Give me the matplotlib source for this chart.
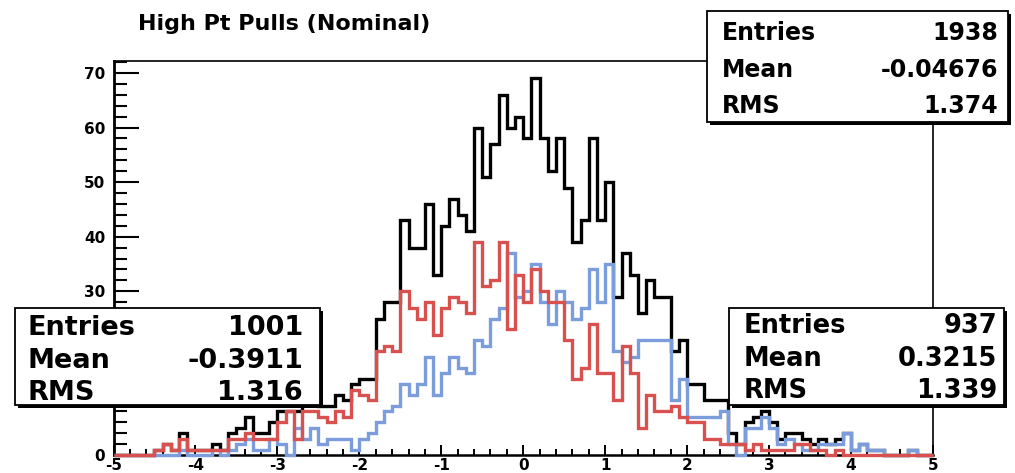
import numpy as np
import matplotlib
matplotlib.use("Agg")
import matplotlib.pyplot as plt
from matplotlib.patches import Rectangle
from matplotlib.ticker import MultipleLocator, FuncFormatter

plt.rcParams["axes.unicode_minus"] = False
plt.rcParams["font.family"] = ["DejaVu Sans"]

# ---- data: pull distributions, 100 bins from -5 to 5 ----
x_range = (-5.0, 5.0)
n_bins = 100

# first sub-sample (red)
pulls_a = [0, 0, 0, 0, 0, 1, 2, 1, 3, 1, 1, 1, 1, 1, 3, 3, 4, 3, 3, 3,
           6, 8, 3, 8, 8, 7, 6, 8, 7, 12, 11, 10, 19, 20, 19, 30, 27, 25, 28, 22,
           27, 29, 28, 26, 39, 31, 32, 39, 23, 33, 28, 34, 30, 28, 28, 21, 14, 16, 24, 15,
           15, 10, 20, 15, 5, 11, 8, 8, 9, 7, 6, 6, 3, 3, 2, 2, 2, 1, 2, 1,
           1, 1, 1, 2, 2, 1, 1, 0, 1, 0, 0, 0, 0, 0, 0, 0, 0, 0, 0, 0]

# second sub-sample (blue)
pulls_b = [0, 0, 0, 0, 0, 0, 0, 0, 1, 0, 0, 0, 1, 0, 1, 2, 3, 1, 1, 3,
           2, 0, 5, 3, 5, 2, 3, 3, 3, 1, 3, 4, 6, 8, 9, 13, 11, 13, 18, 11,
           15, 18, 16, 15, 21, 20, 25, 27, 37, 29, 30, 35, 28, 24, 30, 28, 25, 27, 34, 28,
           35, 19, 17, 18, 21, 21, 21, 21, 10, 14, 7, 7, 7, 7, 8, 2, 0, 5, 5, 7,
           5, 2, 3, 2, 1, 1, 2, 2, 2, 4, 1, 2, 1, 1, 0, 0, 0, 1, 0, 0]

# statistics boxes: (label, value) rows
stats_all = [("Entries", "1938"), ("Mean", "-0.04676"), ("RMS", "1.374")]
stats_a = [("Entries", "1001"), ("Mean", "-0.3911"), ("RMS", "1.316")]
stats_b = [("Entries", "937"), ("Mean", "0.3215"), ("RMS", "1.339")]

title = "High Pt Pulls (Nominal)"

# y labels that sit under the left statistics box are not printed
hidden_y_labels = [10, 20]

# the nominal histogram is the sum of the two sub-samples
pulls_a = np.array(pulls_a, dtype=float)
pulls_b = np.array(pulls_b, dtype=float)
pulls_all = pulls_a + pulls_b

# ---- figure ----
W, H = 1015, 473
fig = plt.figure(figsize=(W / 100, H / 100), dpi=100)


def fx(px):
    return px / W


def fy(py):
    return 1 - py / H


ax = fig.add_axes([fx(113.5), fy(455), fx(933) - fx(113.5), fy(61) - fy(455)])

RED = "#d9514f"
BLUE = "#7c9ddc"
edges = np.linspace(x_range[0], x_range[1], n_bins + 1)
lw = 2.4
ax.stairs(pulls_all, edges, color="black", lw=lw, clip_on=False, zorder=3)
ax.stairs(pulls_b, edges, color=BLUE, lw=lw, clip_on=False, zorder=3.1)
ax.stairs(pulls_a, edges, color=RED, lw=lw, clip_on=False, zorder=3.2)

ax.set_xlim(*x_range)
ax.set_ylim(0, 72.2)
ax.xaxis.set_major_locator(MultipleLocator(1))
ax.xaxis.set_minor_locator(MultipleLocator(0.2))
ax.yaxis.set_major_locator(MultipleLocator(10))
ax.yaxis.set_minor_locator(MultipleLocator(2))
ax.xaxis.set_major_formatter(FuncFormatter(lambda v, p: f"{v:.0f}"))
ax.yaxis.set_major_formatter(
    FuncFormatter(lambda v, p: "" if round(v) in hidden_y_labels else f"{v:.0f}"))

ax.tick_params(axis="x", which="major", direction="in", length=7.5, width=1.4,
               pad=2, labelsize=11)
ax.tick_params(axis="x", which="minor", direction="in", length=4, width=1.4)
ax.tick_params(axis="y", which="major", direction="in", length=18, width=1.5,
               pad=6, labelsize=11)
ax.tick_params(axis="y", which="minor", direction="in", length=9.5, width=1.5)
for lab in ax.get_xticklabels() + ax.get_yticklabels():
    lab.set_fontweight("bold")

ax.spines["left"].set_linewidth(2.0)
ax.spines["bottom"].set_linewidth(1.8)
ax.spines["top"].set_linewidth(1.2)
ax.spines["right"].set_linewidth(1.2)

fig.text(fx(138), fy(30), title, ha="left", va="baseline",
         fontsize=16, fontweight="bold")


def stat_box(x0, y0, x1, y1, rows, fs, lab_x, val_x, baselines):
    shadow = Rectangle((fx(x0 + 3), fy(y1 + 3)), fx(x1) - fx(x0), fy(y0) - fy(y1),
                       transform=fig.transFigure, facecolor="black",
                       edgecolor="none", zorder=5)
    box = Rectangle((fx(x0), fy(y1)), fx(x1) - fx(x0), fy(y0) - fy(y1),
                    transform=fig.transFigure, facecolor="white",
                    edgecolor="black", lw=1.3, zorder=6)
    fig.add_artist(shadow)
    fig.add_artist(box)
    for (name, val), yb in zip(rows, baselines):
        fig.text(fx(lab_x), fy(yb), name, ha="left", va="baseline",
                 fontsize=fs, fontweight="bold", zorder=7)
        fig.text(fx(val_x), fy(yb), val, ha="right", va="baseline",
                 fontsize=fs, fontweight="bold", zorder=7)


stat_box(707, 11, 1008, 122, stats_all, 17, 722, 998, [40, 77, 113])
stat_box(15, 308, 320, 405, stats_a, 19.5, 28, 303, [335, 368, 400])
stat_box(729, 308, 1004, 405, stats_b, 18.5, 744, 997, [333, 366, 398])

fig.savefig("out.png", dpi=100)
